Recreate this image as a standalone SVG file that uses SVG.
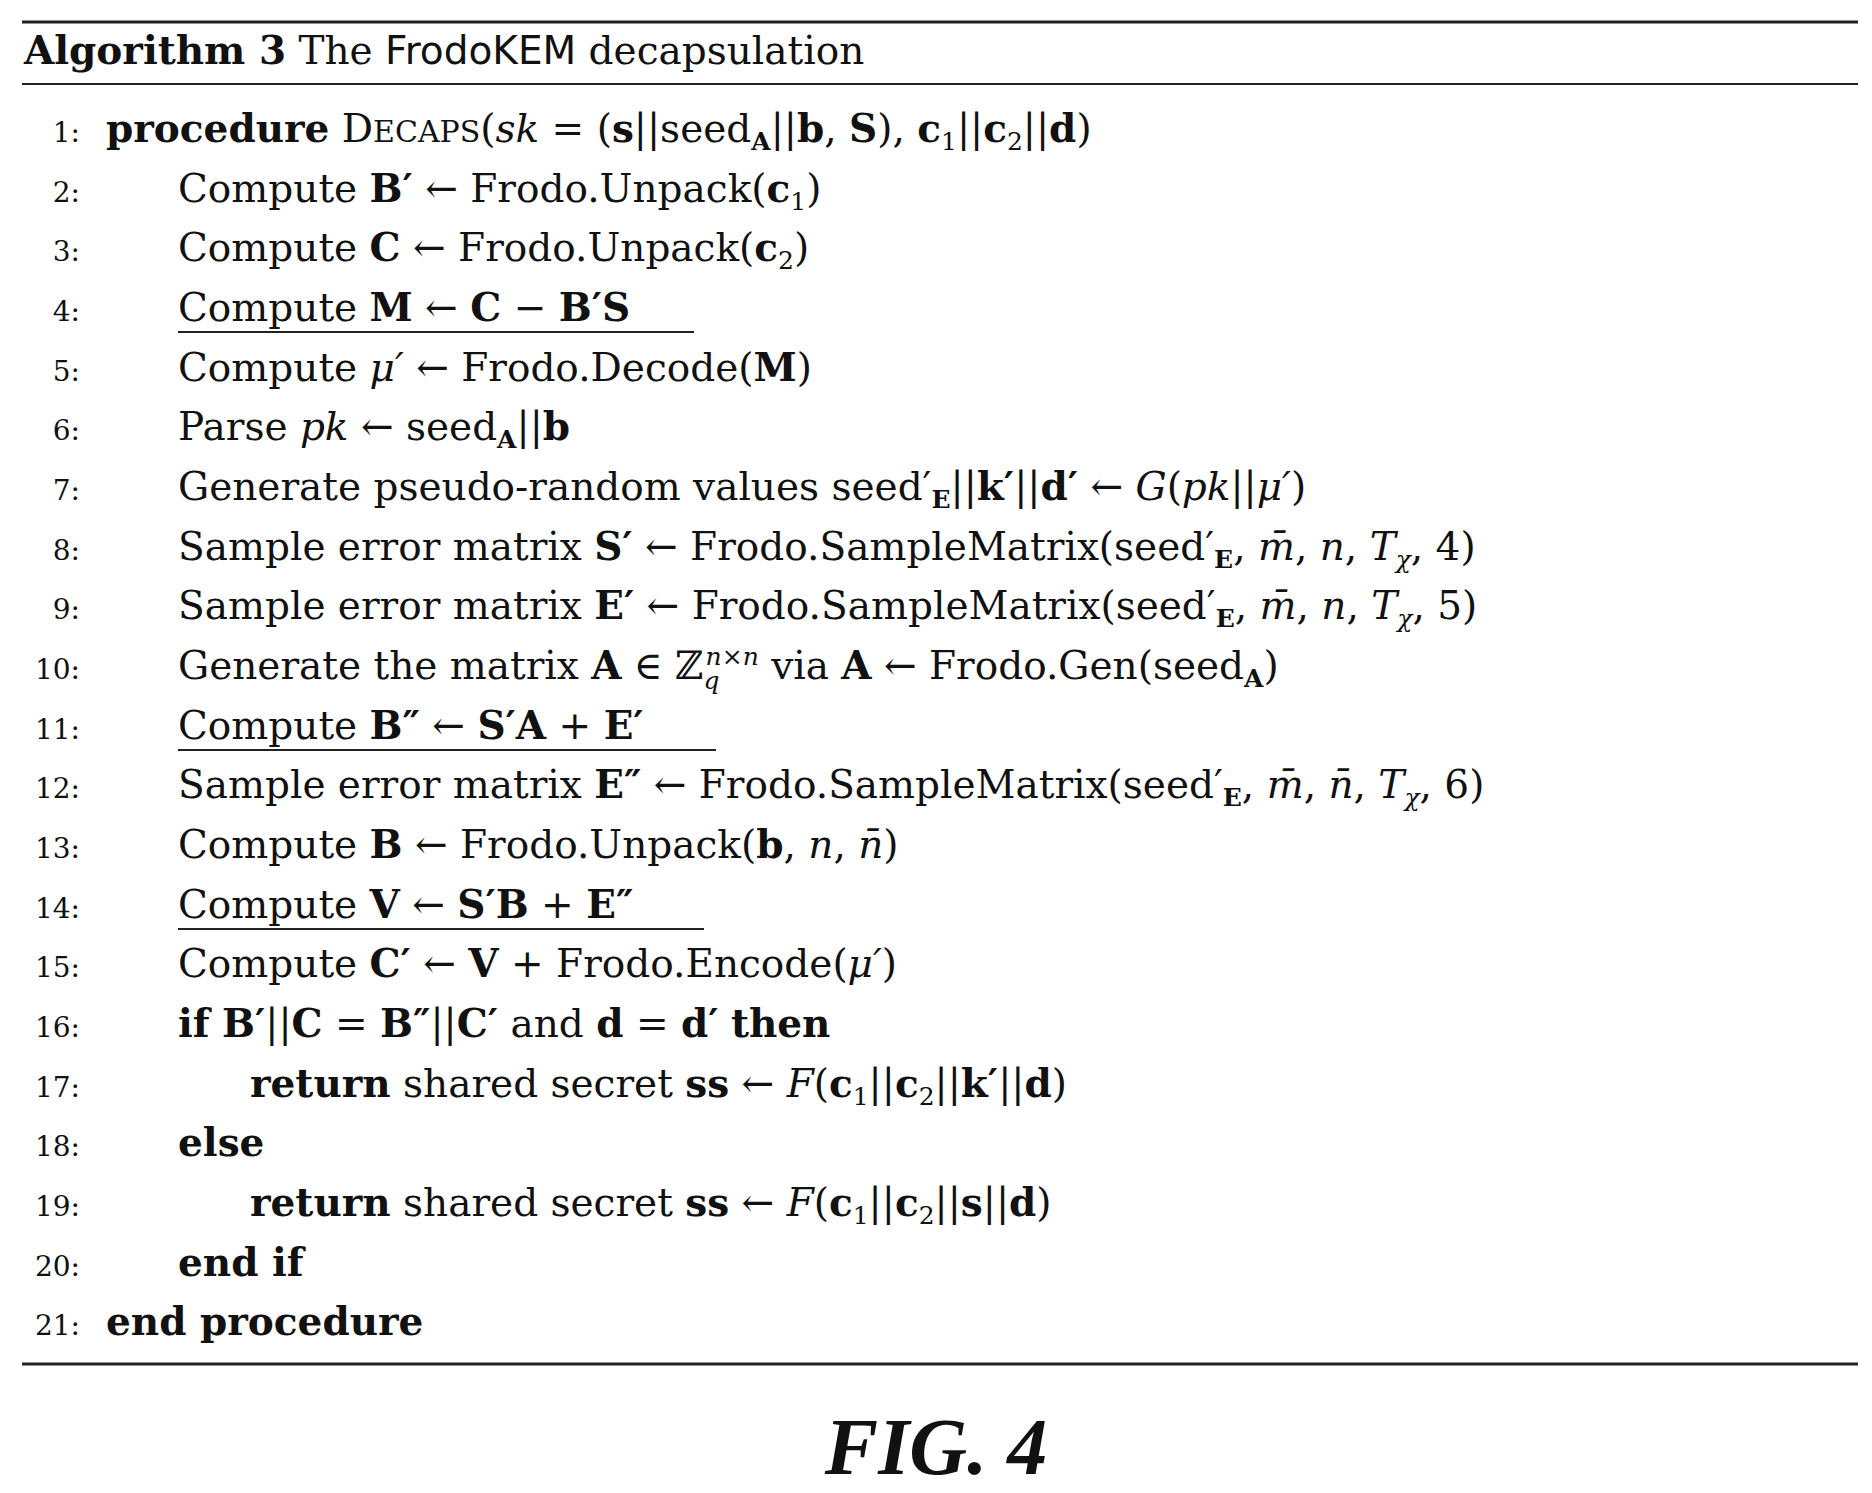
<svg xmlns="http://www.w3.org/2000/svg" width="1872" height="1493" viewBox="0 0 1872 1493">
<style>
text{font-family:"DejaVu Serif","Liberation Serif",serif;font-size:39px;fill:#111}
.n{font-size:28px;text-anchor:end}
.b{font-weight:bold}
.i{font-style:italic}
.s{font-size:25px}
.rule{stroke:#222;fill:none}
</style>
<rect width="1872" height="1493" fill="#fff"/>
<g id="frame">
<line class="rule" x1="22" y1="22" x2="1858" y2="22" stroke-width="3"/>
<line class="rule" x1="22" y1="84" x2="1858" y2="84" stroke-width="2"/>
<line class="rule" x1="22" y1="1364" x2="1858" y2="1364" stroke-width="3"/>
<text x="24" y="64"><tspan class="b">Algorithm 3</tspan> The <tspan font-family="DejaVu Sans">FrodoKEM</tspan> decapsulation</text>
</g>
<g id="lines">
<text class="n" x="80" y="142">1:</text>
<text x="106" y="142"><tspan class="b">procedure</tspan> D<tspan font-size="30">ECAPS</tspan>(<tspan class="i">sk</tspan> = (<tspan class="b">s</tspan>||seed<tspan class="b s" dy="8">A</tspan><tspan dy="-8">||</tspan><tspan class="b">b</tspan>, <tspan class="b">S</tspan>), <tspan class="b">c</tspan><tspan class="s" dy="8">1</tspan><tspan dy="-8">||</tspan><tspan class="b">c</tspan><tspan class="s" dy="8">2</tspan><tspan dy="-8">||</tspan><tspan class="b">d</tspan>)</text>
<text class="n" x="80" y="202">2:</text>
<text x="178" y="202">Compute <tspan class="b">B′</tspan> ← Frodo.Unpack(<tspan class="b">c</tspan><tspan class="s" dy="8">1</tspan><tspan dy="-8">)</tspan></text>
<text class="n" x="80" y="261">3:</text>
<text x="178" y="261">Compute <tspan class="b">C</tspan> ← Frodo.Unpack(<tspan class="b">c</tspan><tspan class="s" dy="8">2</tspan><tspan dy="-8">)</tspan></text>
<text class="n" x="80" y="321">4:</text>
<text x="178" y="321">Compute <tspan class="b">M</tspan> ← <tspan class="b">C</tspan> − <tspan class="b">B′S</tspan></text>
<line class="rule" x1="178" y1="332" x2="694" y2="332" stroke-width="2"/>
<text class="n" x="80" y="381">5:</text>
<text x="178" y="381">Compute <tspan class="i">μ′</tspan> ← Frodo.Decode(<tspan class="b">M</tspan>)</text>
<text class="n" x="80" y="440">6:</text>
<text x="178" y="440">Parse <tspan class="i">pk</tspan> ← seed<tspan class="b s" dy="8">A</tspan><tspan dy="-8">||</tspan><tspan class="b">b</tspan></text>
<text class="n" x="80" y="500">7:</text>
<text x="178" y="500">Generate pseudo-random values seed′<tspan class="b s" dy="8">E</tspan><tspan dy="-8">||</tspan><tspan class="b">k′</tspan>||<tspan class="b">d′</tspan> ← <tspan class="i">G</tspan>(<tspan class="i">pk</tspan>||<tspan class="i">μ′</tspan>)</text>
<text class="n" x="80" y="560">8:</text>
<text x="178" y="560">Sample error matrix <tspan class="b">S′</tspan> ← Frodo.SampleMatrix(seed′<tspan class="b s" dy="8">E</tspan><tspan dy="-8">, </tspan><tspan class="i">m̄</tspan>, <tspan class="i">n</tspan>, <tspan class="i">T</tspan><tspan class="i s" dy="8">χ</tspan><tspan dy="-8">, 4)</tspan></text>
<text class="n" x="80" y="619">9:</text>
<text x="178" y="619">Sample error matrix <tspan class="b">E′</tspan> ← Frodo.SampleMatrix(seed′<tspan class="b s" dy="8">E</tspan><tspan dy="-8">, </tspan><tspan class="i">m̄</tspan>, <tspan class="i">n</tspan>, <tspan class="i">T</tspan><tspan class="i s" dy="8">χ</tspan><tspan dy="-8">, 5)</tspan></text>
<text class="n" x="80" y="679">10:</text>
<text x="178" y="679">Generate the matrix <tspan class="b">A</tspan> ∈ ℤ<tspan class="i s" dy="10">q</tspan><tspan class="i s" dx="-14" dy="-24">n×n</tspan><tspan dy="14"> via </tspan><tspan class="b">A</tspan> ← Frodo.Gen(seed<tspan class="b s" dy="8">A</tspan><tspan dy="-8">)</tspan></text>
<text class="n" x="80" y="739">11:</text>
<text x="178" y="739">Compute <tspan class="b">B″</tspan> ← <tspan class="b">S′A</tspan> + <tspan class="b">E′</tspan></text>
<line class="rule" x1="178" y1="750" x2="716" y2="750" stroke-width="2"/>
<text class="n" x="80" y="798">12:</text>
<text x="178" y="798">Sample error matrix <tspan class="b">E″</tspan> ← Frodo.SampleMatrix(seed′<tspan class="b s" dy="8">E</tspan><tspan dy="-8">, </tspan><tspan class="i">m̄</tspan>, <tspan class="i">n̄</tspan>, <tspan class="i">T</tspan><tspan class="i s" dy="8">χ</tspan><tspan dy="-8">, 6)</tspan></text>
<text class="n" x="80" y="858">13:</text>
<text x="178" y="858">Compute <tspan class="b">B</tspan> ← Frodo.Unpack(<tspan class="b">b</tspan>, <tspan class="i">n</tspan>, <tspan class="i">n̄</tspan>)</text>
<text class="n" x="80" y="918">14:</text>
<text x="178" y="918">Compute <tspan class="b">V</tspan> ← <tspan class="b">S′B</tspan> + <tspan class="b">E″</tspan></text>
<line class="rule" x1="178" y1="929" x2="704" y2="929" stroke-width="2"/>
<text class="n" x="80" y="977">15:</text>
<text x="178" y="977">Compute <tspan class="b">C′</tspan> ← <tspan class="b">V</tspan> + Frodo.Encode(<tspan class="i">μ′</tspan>)</text>
<text class="n" x="80" y="1037">16:</text>
<text x="178" y="1037"><tspan class="b">if</tspan> <tspan class="b">B′</tspan>||<tspan class="b">C</tspan> = <tspan class="b">B″</tspan>||<tspan class="b">C′</tspan> and <tspan class="b">d</tspan> = <tspan class="b">d′</tspan> <tspan class="b">then</tspan></text>
<text class="n" x="80" y="1097">17:</text>
<text x="250" y="1097"><tspan class="b">return</tspan> shared secret <tspan class="b">ss</tspan> ← <tspan class="i">F</tspan>(<tspan class="b">c</tspan><tspan class="s" dy="8">1</tspan><tspan dy="-8">||</tspan><tspan class="b">c</tspan><tspan class="s" dy="8">2</tspan><tspan dy="-8">||</tspan><tspan class="b">k′</tspan>||<tspan class="b">d</tspan>)</text>
<text class="n" x="80" y="1156">18:</text>
<text x="178" y="1156" class="b">else</text>
<text class="n" x="80" y="1216">19:</text>
<text x="250" y="1216"><tspan class="b">return</tspan> shared secret <tspan class="b">ss</tspan> ← <tspan class="i">F</tspan>(<tspan class="b">c</tspan><tspan class="s" dy="8">1</tspan><tspan dy="-8">||</tspan><tspan class="b">c</tspan><tspan class="s" dy="8">2</tspan><tspan dy="-8">||</tspan><tspan class="b">s</tspan>||<tspan class="b">d</tspan>)</text>
<text class="n" x="80" y="1276">20:</text>
<text x="178" y="1276" class="b">end if</text>
<text class="n" x="80" y="1335">21:</text>
<text x="106" y="1335" class="b">end procedure</text>
</g>
<text x="936" y="1474" text-anchor="middle" font-family="Liberation Serif" font-size="80" font-weight="bold" font-style="italic" style="font-family:'Liberation Serif',serif;font-size:80px">FIG. 4</text>
</svg>
